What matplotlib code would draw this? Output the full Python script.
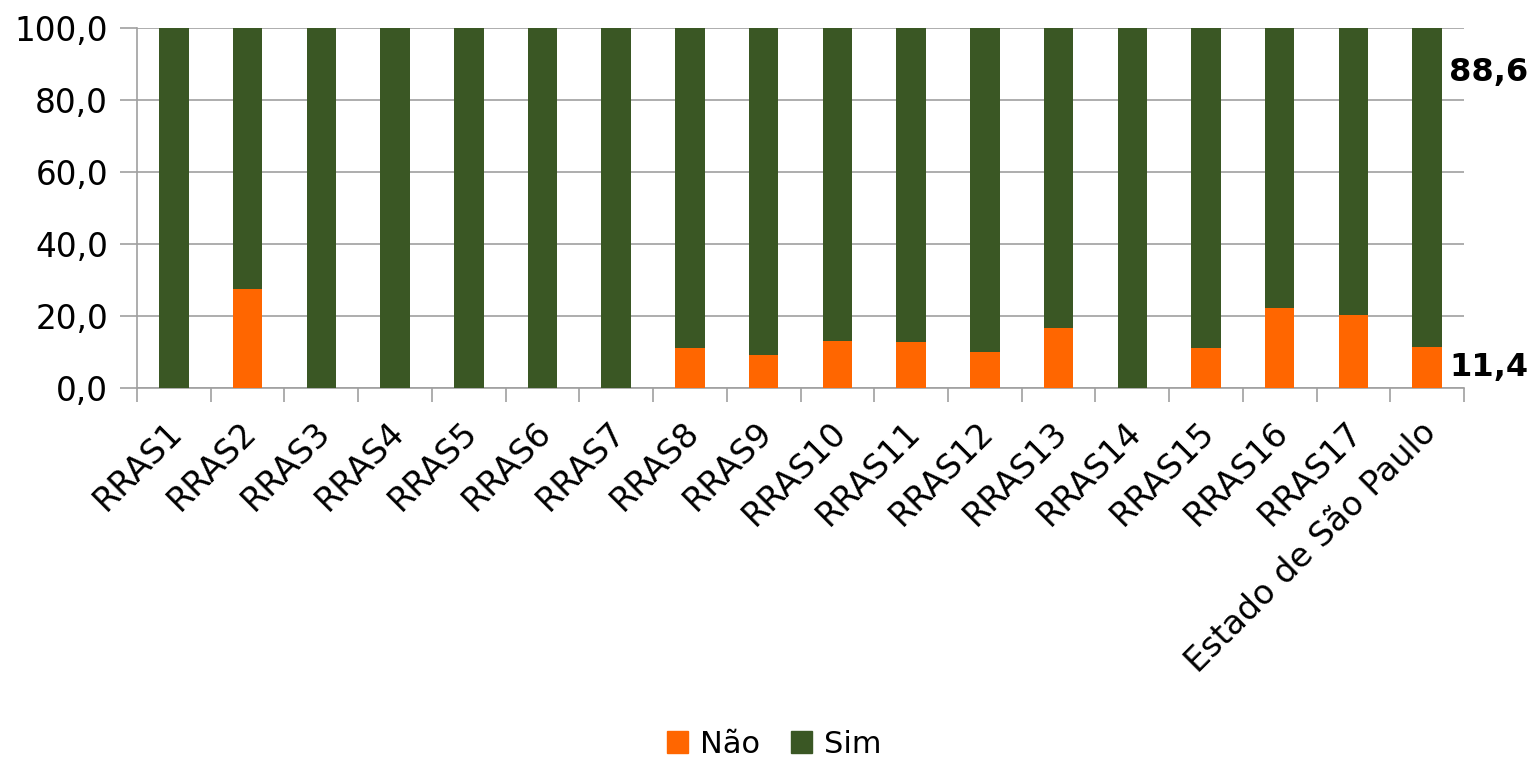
import matplotlib.pyplot as plt
import matplotlib.transforms as mtransforms
import numpy as np
from matplotlib.patches import Patch

categories = ["RRAS1", "RRAS2", "RRAS3", "RRAS4", "RRAS5", "RRAS6", "RRAS7",
              "RRAS8", "RRAS9", "RRAS10", "RRAS11", "RRAS12", "RRAS13",
              "RRAS14", "RRAS15", "RRAS16", "RRAS17", "Estado de São Paulo"]
nao = [0.0, 27.6, 0.0, 0.0, 0.0, 0.0, 0.0, 11.0, 9.2, 13.1, 12.8, 10.1,
       16.7, 0.0, 11.0, 22.3, 20.2, 11.4]
sim = [100 - v for v in nao]
yticks = [0, 20, 40, 60, 80, 100]

orange = "#FF6600"
green = "#3A5724"

fig = plt.figure(figsize=(15.33, 7.57), dpi=100)
ax = fig.add_axes([0.0894, 0.4875, 0.8656, 0.4755])

x = np.arange(len(categories))
ax.bar(x, nao, width=0.4, color=orange, zorder=3)
ax.bar(x, sim, bottom=nao, width=0.4, color=green, zorder=3)

ax.set_xlim(-0.5, len(categories) - 0.5)
ax.set_ylim(0, 100)
ax.set_yticks(yticks)
ax.set_yticklabels([f"{v:.1f}".replace(".", ",") for v in yticks], fontsize=23.5)
ax.yaxis.grid(True, color="#A0A0A0", linewidth=1.2, zorder=0)
ax.tick_params(axis="y", length=12, color="#A0A0A0", width=1.2, pad=9)

ax.set_xticks(x)
ax.set_xticklabels(categories, rotation=45, ha="right", rotation_mode="anchor",
                   fontsize=24)
ax.set_xticks(np.arange(len(categories) + 1) - 0.5, minor=True)
ax.tick_params(axis="x", which="major", length=0, pad=20)
ax.tick_params(axis="x", which="minor", length=10, color="#A0A0A0", width=1.2)
shift = mtransforms.ScaledTranslation(-8 / 100, 0, fig.dpi_scale_trans)
for lbl in ax.get_xticklabels():
    lbl.set_transform(lbl.get_transform() + shift)

for side in ["top", "right"]:
    ax.spines[side].set_visible(False)
for side in ["left", "bottom"]:
    ax.spines[side].set_color("#A0A0A0")
    ax.spines[side].set_linewidth(1.2)

last = len(categories) - 1
ax.text(last + 0.3, nao[last] / 2, f"{nao[last]:.1f}".replace(".", ","),
        fontsize=23, fontweight="bold", va="center", ha="left")
ax.text(last + 0.3, sim[last] - 1, f"{sim[last]:.1f}".replace(".", ","),
        fontsize=23, fontweight="bold", va="center", ha="left")

handles = [Patch(color=orange, label="Não"), Patch(color=green, label="Sim")]
fig.legend(handles=handles, loc="center", bbox_to_anchor=(0.505, 0.017),
           ncol=2, frameon=False, fontsize=22, handlelength=0.7,
           handleheight=0.7, handletextpad=0.4, columnspacing=1.0)

plt.savefig("out.png")
